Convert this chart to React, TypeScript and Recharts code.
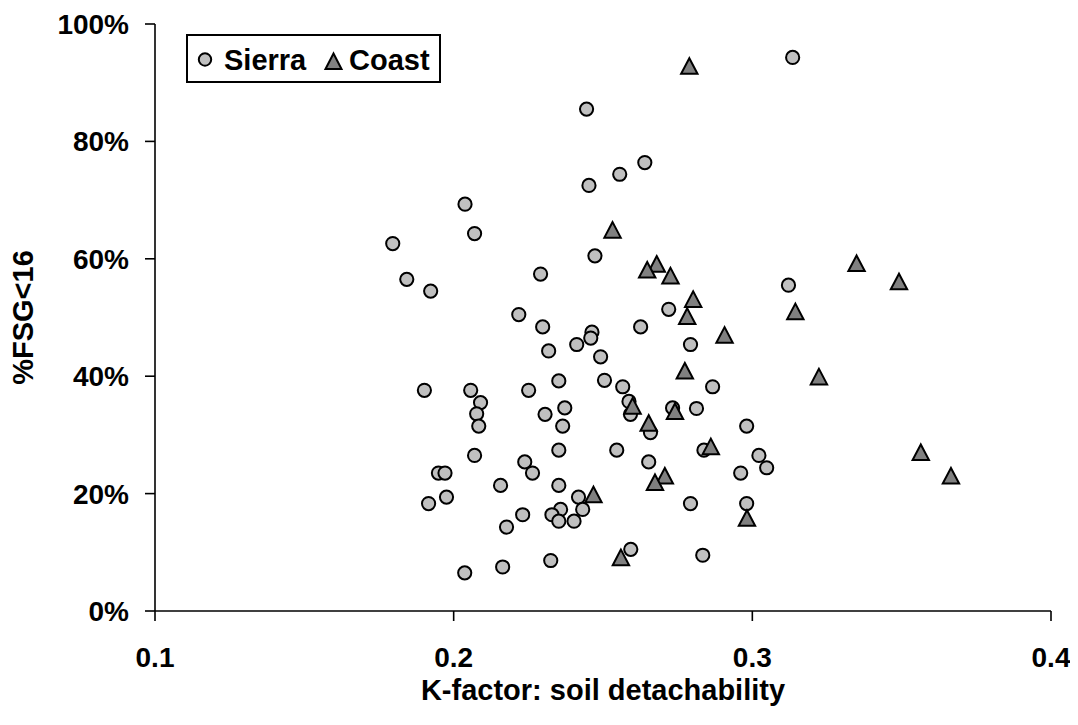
import React from 'react';
import { ScatterChart, Scatter, XAxis, YAxis, Legend } from 'recharts';

// K-factor values (x) and %FSG<16 values (y, percent)
const sierraK = [
  0.2445, 0.2556, 0.2453, 0.2038, 0.207, 0.1796, 0.2473, 0.1843, 0.2291, 0.1923,
  0.2218, 0.3135, 0.264, 0.3121, 0.272, 0.2298, 0.2463, 0.2459, 0.2412, 0.2318,
  0.2492, 0.2352, 0.2505, 0.1902, 0.2057, 0.2251, 0.209, 0.2372, 0.2306, 0.2077,
  0.2365, 0.2084, 0.2352, 0.207, 0.2238, 0.2264, 0.1949, 0.1971, 0.2157, 0.2352,
  0.2418, 0.1976, 0.1916, 0.2432, 0.2358, 0.2329, 0.2231, 0.2352, 0.2403, 0.2177,
  0.2325, 0.2164, 0.2037, 0.2626, 0.2793, 0.2566, 0.2867, 0.2587, 0.2592, 0.2733,
  0.2813, 0.2659, 0.2981, 0.2546, 0.2838, 0.3022, 0.3048, 0.2653, 0.2961, 0.2793,
  0.2981, 0.2593, 0.2834,
];
const sierraFSG = [
  85.5, 74.4, 72.5, 69.3, 64.3, 62.6, 60.5, 56.5, 57.4, 54.5,
  50.5, 94.3, 76.4, 55.5, 51.4, 48.4, 47.5, 46.5, 45.4, 44.3,
  43.3, 39.2, 39.3, 37.6, 37.6, 37.6, 35.5, 34.6, 33.5, 33.6,
  31.5, 31.5, 27.4, 26.5, 25.4, 23.5, 23.5, 23.5, 21.4, 21.4,
  19.4, 19.4, 18.3, 17.3, 17.3, 16.4, 16.4, 15.3, 15.3, 14.3,
  8.6, 7.5, 6.5, 48.4, 45.4, 38.2, 38.2, 35.7, 33.5, 34.6,
  34.5, 30.4, 31.5, 27.4, 27.4, 26.5, 24.4, 25.4, 23.5, 18.3,
  18.3, 10.5, 9.5,
];
const coastK = [
  0.2789, 0.2532, 0.268, 0.2648, 0.2726, 0.2802, 0.2782, 0.3144, 0.3349, 0.3491,
  0.2907, 0.2774, 0.3223, 0.2599, 0.2741, 0.2653, 0.2861, 0.2707, 0.2674, 0.3564,
  0.3665, 0.2468, 0.2982, 0.256,
];
const coastFSG = [
  92.8, 64.9, 59.1, 58.1, 57.1, 53.1, 50.2, 51.0, 59.2, 56.1,
  47.0, 40.9, 39.9, 34.9, 34.0, 32.0, 28.0, 23.0, 21.9, 27.0,
  23.0, 19.8, 15.8, 9.1,
];

const xTicks = [0.1, 0.2, 0.3, 0.4];
const yTicks = [0, 20, 40, 60, 80, 100];
const seriesNames = ['Sierra', 'Coast'];
const xTitle = 'K-factor: soil detachability';
const yTitle = '%FSG<16';

const sierraData = sierraK.map((k, i) => ({ k, fsg: sierraFSG[i] }));
const coastData = coastK.map((k, i) => ({ k, fsg: coastFSG[i] }));

const FONT = '"Liberation Sans", Arial, Helvetica, sans-serif';
const SIERRA_FILL = '#C0C0C0';
const COAST_FILL = '#808080';

const CircleShape = (props: any) => {
  const { cx, cy } = props;
  if (cx == null || cy == null) return null;
  return <circle cx={cx} cy={cy} r={6.6} fill={SIERRA_FILL} stroke="#000" strokeWidth={2} />;
};

const TriangleShape = (props: any) => {
  const { cx, cy } = props;
  if (cx == null || cy == null) return null;
  const pts = `${cx},${cy - 8} ${cx - 8.2},${cy + 7.6} ${cx + 8.2},${cy + 7.6}`;
  return <polygon points={pts} fill={COAST_FILL} stroke="#000" strokeWidth={2} strokeLinejoin="miter" />;
};

const renderLegend = () => (
  <svg width={256} height={50} style={{ display: 'block' }}>
    <rect x={1} y={1} width={253} height={47} fill="#fff" stroke="#000" strokeWidth={2} />
    <circle cx={19} cy={25.5} r={6.2} fill={SIERRA_FILL} stroke="#000" strokeWidth={2} />
    <text x={38} y={36} fontFamily={FONT} fontWeight="bold" fontSize={29} fill="#000">
      {seriesNames[0]}
    </text>
    <polygon
      points="147.5,19.5 139.5,35 155.5,35"
      fill={COAST_FILL}
      stroke="#000"
      strokeWidth={2}
    />
    <text x={163} y={36} fontFamily={FONT} fontWeight="bold" fontSize={29} fill="#000">
      {seriesNames[1]}
    </text>
  </svg>
);

const XTitle = (props: any) => {
  const vb = props.viewBox || {};
  const x = (vb.x ?? 147) + (vb.width ?? 896) / 2;
  return (
    <text x={x} y={692} textAnchor="middle" fontFamily={FONT} fontWeight="bold" fontSize={29} fill="#000">
      {xTitle}
    </text>
  );
};

const YTitle = (props: any) => {
  const vb = props.viewBox || {};
  const y = (vb.y ?? 16) + (vb.height ?? 587) / 2;
  const x = 14.5;
  return (
    <text
      x={x}
      y={y}
      dy="0.36em"
      transform={`rotate(-90, ${x}, ${y})`}
      textAnchor="middle"
      fontFamily={FONT}
      fontWeight="bold"
      fontSize={29}
      fill="#000"
    >
      {yTitle}
    </text>
  );
};

const tickStyle = { fontFamily: FONT, fontWeight: 'bold' as const, fontSize: 28, fill: '#000' };

export default function App() {
  return (
    <div style={{ width: 1062, height: 709 }}>
      <ScatterChart width={1062} height={709} margin={{ top: 16, right: 19, bottom: 0, left: 0 }}>
        <XAxis
          type="number"
          dataKey="k"
          domain={[0.1, 0.4]}
          ticks={xTicks}
          allowDataOverflow
          tickFormatter={(v: number) => v.toFixed(1)}
          height={106}
          tickSize={10}
          tickMargin={26}
          stroke="#000"
          strokeWidth={1.6}
          tick={tickStyle}
          tickLine={{ stroke: '#000', strokeWidth: 1.6 }}
          axisLine={{ stroke: '#000', strokeWidth: 1.6 }}
          label={<XTitle />}
        />
        <YAxis
          type="number"
          dataKey="fsg"
          domain={[0, 100]}
          ticks={yTicks}
          allowDataOverflow
          tickFormatter={(v: number) => `${v}%`}
          width={147}
          tickSize={10}
          tickMargin={16}
          stroke="#000"
          strokeWidth={1.6}
          tick={tickStyle}
          tickLine={{ stroke: '#000', strokeWidth: 1.6 }}
          axisLine={{ stroke: '#000', strokeWidth: 1.6 }}
          label={<YTitle />}
        />
        <Legend
          layout="vertical"
          align="center"
          verticalAlign="middle"
          content={renderLegend}
          wrapperStyle={{ left: 178, top: 26, width: 256, height: 50 }}
        />
        <Scatter
          name={seriesNames[0]}
          data={sierraData}
          shape={CircleShape}
          isAnimationActive={false}
        />
        <Scatter
          name={seriesNames[1]}
          data={coastData}
          shape={TriangleShape}
          isAnimationActive={false}
        />
      </ScatterChart>
    </div>
  );
}
